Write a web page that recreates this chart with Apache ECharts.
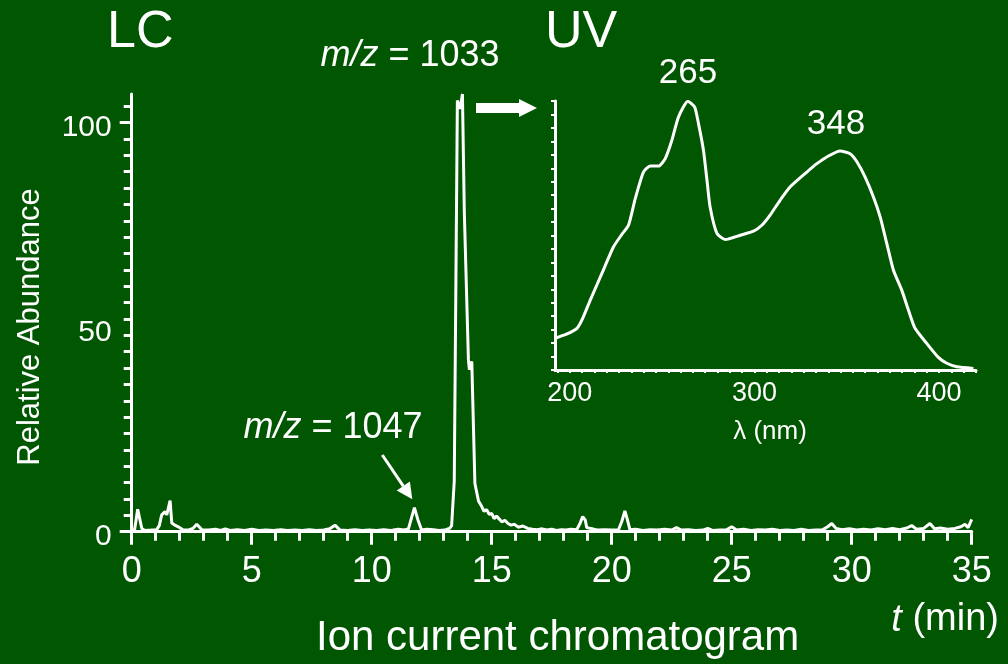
<!DOCTYPE html>
<html>
<head>
<meta charset="utf-8">
<script src="https://cdn.jsdelivr.net/npm/echarts@6/dist/echarts.min.js"></script>
<style>
html, body { margin: 0; padding: 0; background: #015601; }
#mybox { width: 1008px; height: 664px; }
</style>
</head>
<body>
<div id="mybox"></div>
<script>
// LC 离子流色谱 (t / min, 相对丰度)
var lcTime = [
  0.00, 0.12, 0.25, 0.42, 0.55, 0.80, 1.04, 1.15, 1.25, 1.39, 1.46, 1.60, 1.67, 1.80, 1.94,
  2.15, 2.40, 2.55, 2.71, 2.92, 3.2, 3.5, 3.7, 3.9, 4.1, 4.4, 4.7, 5.0, 5.3, 5.6, 5.9,
  6.2, 6.5, 6.8, 7.1, 7.4, 7.7, 8.0, 8.25, 8.47, 8.68, 9.0, 9.3, 9.6, 9.9, 10.2, 10.5,
  10.8, 11.1, 11.35, 11.53, 11.65, 11.78, 11.92, 12.08, 12.3, 12.57, 12.8, 13.05, 13.26,
  13.33, 13.44, 13.57, 13.65, 13.69, 13.78, 13.86, 14.03, 14.07, 14.17, 14.30, 14.45,
  14.58, 14.68, 14.79, 14.9, 15.0, 15.1, 15.2, 15.35, 15.42, 15.55, 15.68, 15.8, 15.95,
  16.1, 16.3, 16.5, 16.7, 16.9, 17.1, 17.3, 17.5, 17.7, 17.9, 18.1, 18.3, 18.54, 18.68,
  18.79, 18.9, 18.96, 19.2, 19.4, 19.7, 20.0, 20.28, 20.42, 20.55, 20.65, 20.76, 21.0,
  21.3, 21.6, 21.9, 22.2, 22.5, 22.7, 22.9, 23.2, 23.5, 23.8, 24.0, 24.2, 24.5, 24.8,
  25.0, 25.2, 25.5, 25.8, 26.1, 26.4, 26.7, 27.0, 27.3, 27.6, 27.9, 28.2, 28.5, 28.8,
  29.0, 29.17, 29.35, 29.6, 29.9, 30.2, 30.5, 30.8, 31.1, 31.4, 31.7, 32.0, 32.3, 32.5,
  32.7, 33.0, 33.26, 33.45, 33.7, 34.0, 34.3, 34.55, 34.72, 34.85, 35.0
];
var lcAbund = [
  0.3, 0.5, 5.5, 0.8, 0.3, 0.4, 0.5, 1.5, 4.1, 4.9, 4.1, 7.6, 2.1, 1.6, 1.2,
  0.4, 0.5, 0.8, 1.8, 0.5, 0.4, 0.6, 0.3, 0.7, 0.3, 0.5, 0.3, 0.6, 0.3, 0.4, 0.3,
  0.5, 0.3, 0.4, 0.3, 0.5, 0.3, 0.4, 0.7, 1.6, 0.4, 0.3, 0.5, 0.3, 0.4, 0.3, 0.5,
  0.3, 0.6, 0.4, 0.7, 3.2, 5.9, 3.0, 0.4, 0.6, 0.5, 0.3, 0.4, 0.9,
  1.5, 12.4, 105.4, 105.8, 103.4, 107.0, 77.9, 42.0, 39.6, 41.6, 11.8, 7.5,
  6.2, 5.0, 5.4, 4.2, 4.5, 3.2, 3.8, 2.9, 2.4, 2.8, 2.0, 1.6, 1.8,
  1.1, 1.4, 0.8, 0.6, 0.5, 0.7, 0.4, 0.6, 0.3, 0.5, 0.4, 0.6, 0.5, 2.0,
  3.7, 2.8, 1.0, 0.7, 0.4, 0.5, 0.4, 0.4, 2.5, 5.1, 3.0, 0.5, 0.6,
  0.3, 0.5, 0.4, 0.6, 0.4, 1.0, 0.4, 0.5, 0.3, 0.4, 0.8, 0.3, 0.4, 0.5,
  1.2, 0.4, 0.6, 0.3, 0.5, 0.4, 0.6, 0.3, 0.4, 0.3, 0.6, 0.3, 0.4, 0.5,
  1.2, 2.0, 0.8, 0.5, 0.7, 0.4, 0.6, 0.4, 0.7, 0.5, 0.8, 0.5, 0.9, 1.5,
  0.6, 0.8, 2.0, 0.7, 0.9, 0.6, 0.8, 1.2, 1.8, 1.0, 3.0
];

// UV 光谱 (λ / nm, 归一化吸光度)
var uvWave = [
  192.2, 198.5, 203.9, 206.6, 211.1, 217.4, 223.7, 228.3, 231.8, 235.5, 239.9, 243.6,
  248.1, 251.7, 255.3, 258.9, 264.0, 267.6, 269.7, 272.4, 274.3, 276.0, 279.7, 284.2,
  292.3, 299.5, 304.0, 308.5, 313.9, 319.4, 328.4, 333.8, 339.2, 346.4, 351.8, 355.5,
  359.9, 364.4, 368.1, 371.7, 375.3, 379.8, 383.4, 387.0, 393.3, 399.6, 404.2, 409.6, 418.6
];
var uvAbs = [
  0.118, 0.134, 0.155, 0.186, 0.260, 0.359, 0.458, 0.505, 0.538, 0.638, 0.736, 0.758,
  0.758, 0.786, 0.854, 0.941, 0.999, 0.978, 0.916, 0.817, 0.706, 0.606, 0.508, 0.485,
  0.501, 0.516, 0.538, 0.576, 0.631, 0.681, 0.736, 0.767, 0.792, 0.814, 0.804, 0.774,
  0.718, 0.644, 0.569, 0.470, 0.371, 0.297, 0.223, 0.155, 0.099, 0.047, 0.025, 0.012, 0.006
];

// 刻度
var lcYLabels = [0, 50, 100];
var lcYTicks = [0, 4, 8, 12, 16, 20, 24, 28, 32, 36, 40, 44, 48, 52, 56, 60, 64, 68, 72, 76, 80, 84, 88, 92, 96, 100, 104];
var lcYMajor = [0, 100];
var uvXLabels = [200, 300, 400];
var uvYTicks = [0, 0.05, 0.1, 0.15, 0.2, 0.25, 0.3, 0.35, 0.4, 0.45, 0.5, 0.55, 0.6, 0.65, 0.7, 0.75, 0.8, 0.85, 0.9, 0.95, 1];
var uvXTicks = [];
for (var k = -1; k <= 33; k++) uvXTicks.push(200 + k * 20 / 3);

var lcData = lcTime.map(function (t, i) { return [t, lcAbund[i]]; });
var uvData = uvWave.map(function (w, i) { return [w, uvAbs[i]]; });

var FONT = '"Liberation Sans", Arial, sans-serif';
var WHITE = '#ffffff';

function txt(text, x, y, size, align, rich, rotation) {
  var st = {
    text: text, x: 0, y: 0, fill: WHITE, font: size + 'px ' + FONT,
    fontSize: size, fontFamily: FONT,
    textAlign: align || 'center', textVerticalAlign: 'middle'
  };
  if (rich) st.rich = rich;
  return { type: 'text', x: x, y: y, rotation: rotation || 0, style: st, z: 10 };
}
function italicRich(size) {
  return {
    i: { fontStyle: 'italic', fontSize: size, fontFamily: FONT, fill: WHITE, color: WHITE },
    n: { fontSize: size, fontFamily: FONT, fill: WHITE, color: WHITE }
  };
}

var mycharts = echarts.init(document.getElementById('mybox'), null, { renderer: 'canvas' });

var optionObj = {
  backgroundColor: '#015601',
  animation: false,
  grid: [
    { left: 131.7, right: 36.3, top: 94, bottom: 132.3 },
    { left: 555, right: 32, top: 101, bottom: 294 }
  ],
  xAxis: [
    {
      gridIndex: 0, type: 'value', min: 0, max: 35, interval: 5,
      axisLine: { lineStyle: { color: WHITE, width: 3 } },
      axisTick: { length: 13, lineStyle: { color: WHITE, width: 3 } },
      minorTick: { show: true, splitNumber: 5, length: 9, lineStyle: { color: WHITE, width: 3 } },
      axisLabel: { color: WHITE, fontSize: 36, fontFamily: FONT, margin: 22 },
      splitLine: { show: false }
    },
    {
      gridIndex: 1, type: 'value', min: 192, max: 420,
      axisLine: { lineStyle: { color: WHITE, width: 3 } },
      axisTick: { customValues: uvXTicks, length: 3, lineStyle: { color: WHITE, width: 2 } },
      axisLabel: { customValues: uvXLabels, color: WHITE, fontSize: 27, fontFamily: FONT, margin: 10 },
      splitLine: { show: false }
    }
  ],
  yAxis: [
    {
      gridIndex: 0, type: 'value', min: 0, max: 107,
      axisLine: { lineStyle: { color: WHITE, width: 3 } },
      axisTick: { customValues: lcYTicks, length: 8, lineStyle: { color: WHITE, width: 3 } },
      axisLabel: {
        customValues: lcYLabels, margin: 20,
        formatter: '{a|{value}}',
        rich: { a: { color: WHITE, fontSize: 30, fontFamily: FONT, padding: [11, 0, 0, 0] } }
      },
      splitLine: { show: false }
    },
    {
      gridIndex: 0, type: 'value', min: 0, max: 107, position: 'left',
      axisLine: { show: false },
      axisTick: { customValues: lcYMajor, length: 12, lineStyle: { color: WHITE, width: 3 } },
      axisLabel: { show: false },
      splitLine: { show: false }
    },
    {
      gridIndex: 1, type: 'value', min: 0, max: 1,
      axisLine: { lineStyle: { color: WHITE, width: 3 } },
      axisTick: { customValues: uvYTicks, length: 4, lineStyle: { color: WHITE, width: 2 } },
      axisLabel: { show: false },
      splitLine: { show: false }
    }
  ],
  series: [
    {
      name: 'LC', type: 'line', xAxisIndex: 0, yAxisIndex: 0, data: lcData,
      showSymbol: false, lineStyle: { color: WHITE, width: 3 }, z: 5
    },
    {
      name: 'UV', type: 'line', xAxisIndex: 1, yAxisIndex: 2, data: uvData,
      showSymbol: false, smooth: 0.2, lineStyle: { color: WHITE, width: 3 }, z: 5
    }
  ],
  graphic: [
    txt('LC', 107, 33, 52, 'left'),
    txt('UV', 545, 33, 52, 'left'),
    txt('{i|m/z}{n| = 1033}', 410, 56, 36, 'center', italicRich(36)),
    txt('{i|m/z}{n| = 1047}', 333, 428, 36, 'center', italicRich(36)),
    txt('265', 688, 73, 35, 'center'),
    txt('348', 836, 124, 35, 'center'),
    txt('Relative Abundance', 30, 327, 31, 'center', null, Math.PI / 2),
    txt('λ (nm)', 770, 432, 26, 'center'),
    txt('Ion current chromatogram', 316, 638, 42, 'left'),
    txt('{i|t}{n| (min)}', 999, 620, 38, 'right', italicRich(38)),
    // 1047 的箭头
    { type: 'line', shape: { x1: 382.3, y1: 455, x2: 403.3, y2: 486.1 }, style: { stroke: WHITE, lineWidth: 3 }, z: 10 },
    { type: 'polygon', shape: { points: [[412.3, 499.3], [396.7, 490.6], [409.9, 481.6]] }, style: { fill: WHITE }, z: 10 },
    // 指向 UV 的箭头
    { type: 'rect', shape: { x: 476, y: 103, width: 45, height: 10 }, style: { fill: WHITE }, z: 10 },
    { type: 'polygon', shape: { points: [[519, 99], [537, 108], [519, 117]] }, style: { fill: WHITE }, z: 10 }
  ]
};

mycharts.setOption(optionObj);
</script>
</body>
</html>
